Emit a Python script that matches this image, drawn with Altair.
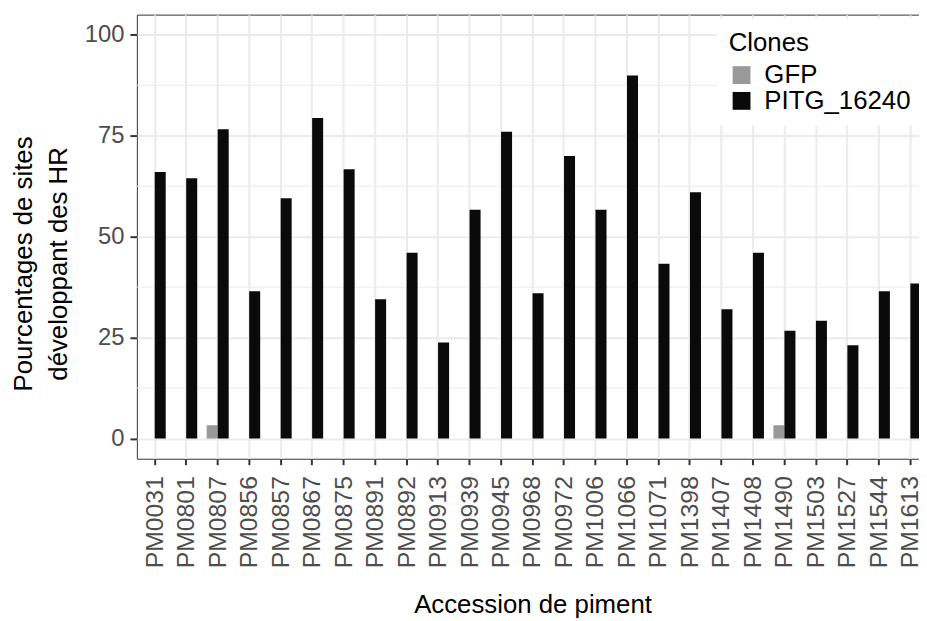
import altair as alt
import pandas as pd

accessions = ["PM0031", "PM0801", "PM0807", "PM0856", "PM0857", "PM0867", "PM0875",
              "PM0891", "PM0892", "PM0913", "PM0939", "PM0945", "PM0968", "PM0972",
              "PM1006", "PM1066", "PM1071", "PM1398", "PM1407", "PM1408", "PM1490",
              "PM1503", "PM1527", "PM1544", "PM1613"]
gfp = [0, 0, 3.3, 0, 0, 0, 0, 0, 0, 0, 0, 0, 0, 0, 0, 0, 0, 0, 0, 0, 3.3, 0, 0, 0, 0]
pitg = [66.0, 64.5, 76.6, 36.5, 59.5, 79.4, 66.7, 34.5, 46.0, 23.8, 56.7, 76.0, 36.0,
        70.0, 56.7, 89.9, 43.3, 61.0, 32.0, 46.0, 26.7, 29.2, 23.1, 36.5, 38.4]
clones = ["GFP", "PITG_16240"]
colors = ["#999999", "#0A0A0A"]
y_ticks = [0, 25, 50, 75, 100]
y_minor = [12.5, 37.5, 62.5, 87.5]

rows = []
for a, g, p in zip(accessions, gfp, pitg):
    rows.append({"Accession": a, "Clones": clones[0], "val": g})
    rows.append({"Accession": a, "Clones": clones[1], "val": p})
df = pd.DataFrame(rows)
minor_df = pd.DataFrame({"v": y_minor})

FONT = "Liberation Sans"

y_scale = alt.Scale(domain=[-5, 105], nice=False, zero=False)

minor = alt.Chart(minor_df).mark_rule(color="#EBEBEB", strokeWidth=1).encode(
    y=alt.Y("v:Q", scale=y_scale)
)

bars = alt.Chart(df).mark_bar().encode(
    x=alt.X("Accession:N", sort=accessions,
            scale=alt.Scale(range=[0, 798.3], paddingInner=0, paddingOuter=0.067),
            axis=alt.Axis(title="Accession de piment", labelAngle=270, labelFontSize=25,
                          labelColor="#4D4D4D", labelPadding=11, domain=False,
                          ticks=True, tickSize=6, tickWidth=2, tickColor="#333333",
                          grid=True, gridColor="#EBEBEB", gridWidth=2,
                          titleFontSize=26, titleFontWeight="normal", titleColor="black",
                          titleBaseline="alphabetic", titleY=155)),
    xOffset=alt.XOffset("Clones:N",
                        scale=alt.Scale(domain=clones, paddingInner=0, paddingOuter=0.43)),
    y=alt.Y("val:Q", scale=y_scale,
            axis=alt.Axis(values=y_ticks, title=["Pourcentages de sites", "développant des HR"],
                          labelFontSize=24, labelColor="#4D4D4D", labelPadding=6,
                          domain=False, tickSize=7, tickWidth=2, tickColor="#333333",
                          grid=True, gridColor="#EBEBEB", gridWidth=2,
                          titleFontSize=26, titleFontWeight="normal", titleColor="black",
                          titleLineHeight=35, titleX=-127, titleY=251,
                          titleBaseline="top", titleAngle=270, titleAlign="center")),
    y2=alt.datum(0),
    color=alt.Color("Clones:N", scale=alt.Scale(domain=clones, range=colors),
                    legend=alt.Legend(orient="none", legendX=585, legendY=4,
                                      fillColor="white", padding=12,
                                      titleFontSize=26, titleFontWeight="normal",
                                      titleColor="black", titlePadding=6,
                                      labelFontSize=26, labelColor="black", labelOffset=10,
                                      symbolType="square", symbolSize=324,
                                      symbolStrokeWidth=0, rowPadding=-3, labelLimit=300)),
)

chart = alt.layer(minor, bars).properties(
    width=789, height=448,
    autosize=alt.AutoSizeParams(type="none"),
    padding={"left": 130, "top": 4, "right": 0, "bottom": 161},
).configure(font=FONT).configure_view(stroke="#333333", strokeWidth=1)

chart.save("out.html", embed_options={"renderer": "svg", "actions": False})
